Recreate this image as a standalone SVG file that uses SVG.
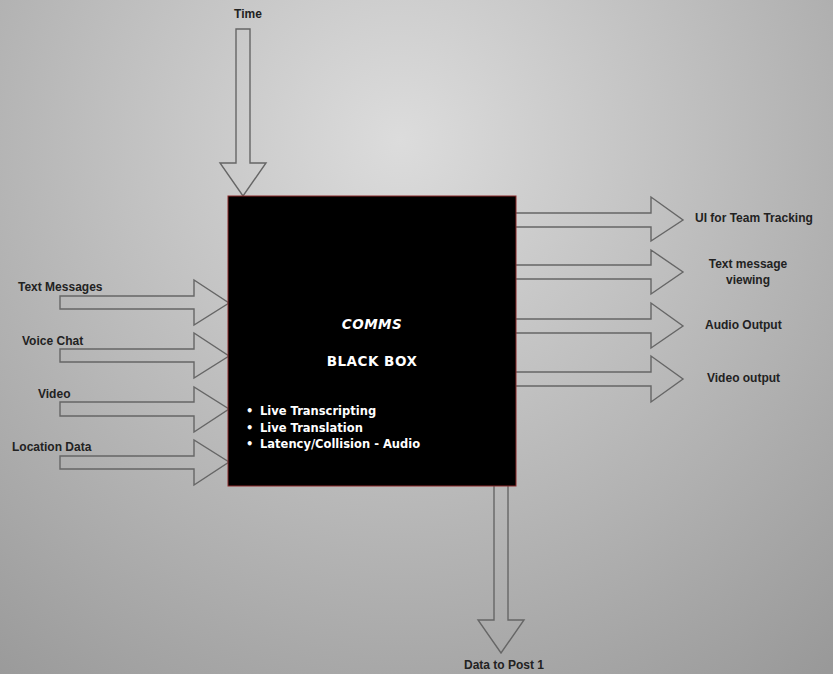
<svg xmlns="http://www.w3.org/2000/svg" width="833" height="674" viewBox="0 0 833 674">
<defs>
<radialGradient id="bg" gradientUnits="userSpaceOnUse" cx="400" cy="140" r="680">
<stop offset="0" stop-color="#dcdcdc"/>
<stop offset="1" stop-color="#999999"/>
</radialGradient>
<style>
.arr{fill:none;stroke:#666;stroke-width:1.4;stroke-linejoin:miter}
.lbl{font-family:"Liberation Sans",Arial,sans-serif;font-weight:bold;font-size:12px;fill:#222}
.wt{font-family:"DejaVu Sans",sans-serif;font-weight:bold;font-size:11.5px;fill:#fff}
.ttl{font-family:"DejaVu Sans",sans-serif;font-weight:bold;font-size:13.5px;fill:#fff;letter-spacing:0.5px}
</style>
</defs>
<rect width="833" height="674" fill="url(#bg)"/>
<g id="connectors">
<path class="arr" d="M236,29 H250 V163 H266 L243,196 L220,163 H236 Z"/>
<path class="arr" d="M60,296 H194 V280 L229,303 L194,325 V309 H60 Z"/>
<path class="arr" d="M60,349 H194 V333 L229,356 L194,378 V362 H60 Z"/>
<path class="arr" d="M60,402 H194 V387 L229,409 L194,432 V416 H60 Z"/>
<path class="arr" d="M60,456 H194 V440 L229,462 L194,485 V469 H60 Z"/>
<path class="arr" d="M516,213 H651 V197 L683,220 L651,241 V227 H516"/>
<path class="arr" d="M516,265 H651 V250 L683,272 L651,294 V279 H516"/>
<path class="arr" d="M516,319 H651 V303 L683,326 L651,348 V333 H516"/>
<path class="arr" d="M516,372 H651 V356 L683,379 L651,402 V386 H516"/>
<path class="arr" d="M494,486 V620 H478 L501,653 L524,620 H508 V486"/>
</g>
<g id="blackbox">
<rect x="228" y="196" width="288" height="290" fill="#000" stroke="#8b2a2a" stroke-width="1"/>
<text class="ttl" x="372" y="329" text-anchor="middle" font-style="italic">COMMS</text>
<text class="ttl" x="372" y="366" text-anchor="middle">BLACK BOX</text>
<text class="wt" x="246" y="415" font-size="9">•</text>
<text class="wt" x="260" y="415">Live Transcripting</text>
<text class="wt" x="246" y="432" font-size="9">•</text>
<text class="wt" x="260" y="432">Live Translation</text>
<text class="wt" x="246" y="448" font-size="9">•</text>
<text class="wt" x="260" y="448">Latency/Collision - Audio</text>
</g>
<g id="time"><text class="lbl" x="248" y="18" text-anchor="middle">Time</text></g>
<g id="text-messages"><text class="lbl" x="18" y="291">Text Messages</text></g>
<g id="voice-chat"><text class="lbl" x="22" y="345">Voice Chat</text></g>
<g id="video"><text class="lbl" x="38" y="398">Video</text></g>
<g id="location-data"><text class="lbl" x="12" y="451">Location Data</text></g>
<g id="ui-team-tracking"><text class="lbl" x="695" y="222">UI for Team Tracking</text></g>
<g id="text-message-viewing"><text class="lbl" x="748" y="268" text-anchor="middle">Text message</text><text class="lbl" x="748" y="284" text-anchor="middle">viewing</text></g>
<g id="audio-output"><text class="lbl" x="705" y="329">Audio Output</text></g>
<g id="video-output"><text class="lbl" x="707" y="382">Video output</text></g>
<g id="data-to-post"><text class="lbl" x="504" y="669" text-anchor="middle">Data to Post 1</text></g>
</svg>
